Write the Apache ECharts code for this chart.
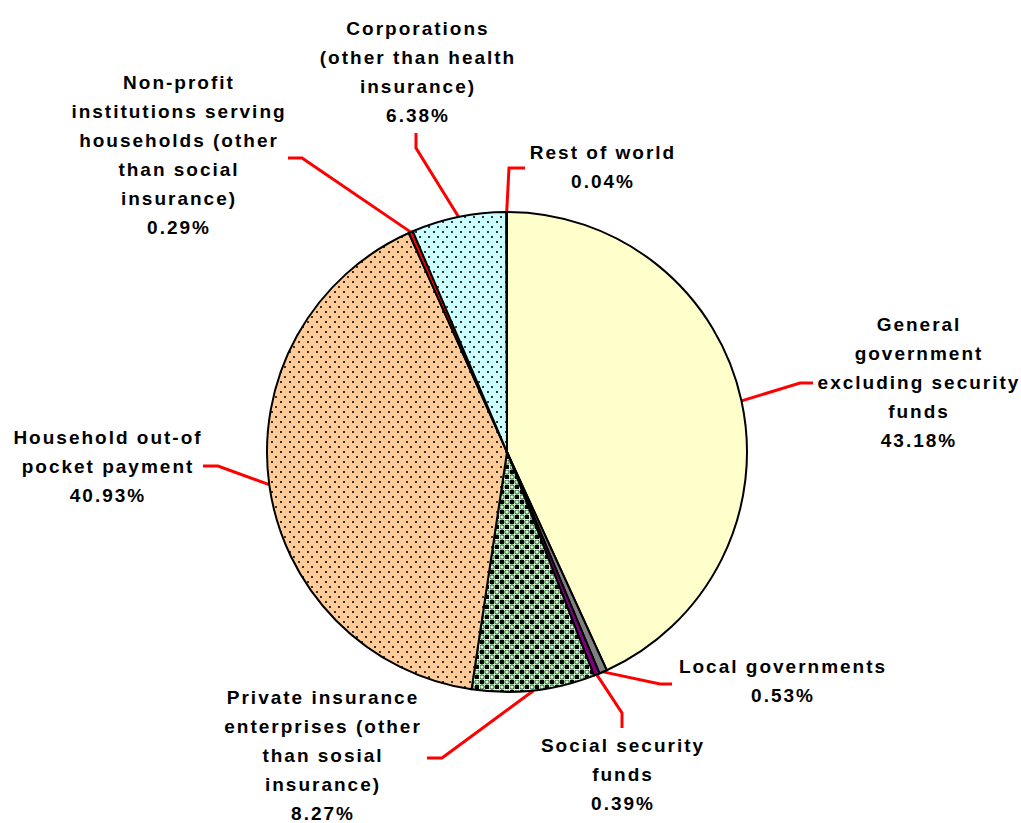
<!DOCTYPE html>
<html>
<head>
<meta charset="utf-8">
<script src="https://cdn.jsdelivr.net/npm/echarts@6/dist/echarts.min.js"></script>
<style>
  html, body { margin: 0; padding: 0; background: #ffffff; }
  #chart { width: 1021px; height: 823px; }
  #chart text { letter-spacing: 2px; }
</style>
</head>
<body>
<div id="chart"></div>
<script>
// ---- data ----
const categories = [
  'General\ngovernment\nexcluding security\nfunds',
  'Local governments',
  'Social security\nfunds',
  'Private insurance\nenterprises (other\nthan sosial\ninsurance)',
  'Household out-of\npocket payment',
  'Non-profit\ninstitutions serving\nhouseholds (other\nthan social\ninsurance)',
  'Corporations\n(other than health\ninsurance)',
  'Rest of world'
];
const values = [43.18, 0.53, 0.39, 8.27, 40.93, 0.29, 6.38, 0.04];

// ---- styling / layout (not data) ----
function makePattern(w, h, bg, draw) {
  const c = document.createElement('canvas');
  c.width = w; c.height = h;
  const g = c.getContext('2d');
  g.fillStyle = bg; g.fillRect(0, 0, w, h);
  if (draw) draw(g);
  return { image: c, repeat: 'repeat', imageWidth: w, imageHeight: h };
}
const dotsOrange = makePattern(9, 10, '#FFCC99', g => {
  g.fillStyle = '#3a2e22';
  g.fillRect(1, 1, 2, 2);
  g.fillRect(5, 6, 2, 2);
});
const dotsCyan = makePattern(9, 10, '#CCFFFF', g => {
  g.fillStyle = '#2e3a3a';
  g.fillRect(1, 1, 2, 2);
  g.fillRect(5, 6, 2, 2);
});
const checkGreen = makePattern(10, 10, '#CCFFCC', g => {
  g.fillStyle = '#000000';
  g.fillRect(0, 0, 4, 4);
  g.fillRect(5, 5, 4, 4);
  g.strokeStyle = '#2f4a2f';
  g.lineWidth = 1;
  g.beginPath(); g.arc(7, 2, 2.2, 0, Math.PI * 2); g.stroke();
  g.beginPath(); g.arc(2, 7, 2.2, 0, Math.PI * 2); g.stroke();
});
const sliceColors = ['#FFFFCC', '#808080', '#800080', checkGreen, dotsOrange, '#FF0000', dotsCyan, '#FFFFFF'];

// label block centre and elbow/end points of leader lines
const labelLayoutTable = [
  { pos: [919, 382], elbow: [800, 383], end: [813, 383] },
  { pos: [783, 681], elbow: [660, 684], end: [672, 684] },
  { pos: [623, 774], elbow: [622, 713], end: [622, 728] },
  { pos: [323, 755], elbow: [442, 758], end: [427, 758] },
  { pos: [108, 466], elbow: [218, 466], end: [203, 466] },
  { pos: [179, 155], elbow: [302, 158], end: [288, 158] },
  { pos: [418, 72],  elbow: [416, 148], end: [416, 133] },
  { pos: [603, 167], elbow: [509, 168], end: [525, 168] }
];

const chart = echarts.init(document.getElementById('chart'), null, { renderer: 'svg' });
chart.setOption({
  animation: false,
  backgroundColor: '#ffffff',
  series: [{
    type: 'pie',
    center: [507, 452],
    radius: 240,
    startAngle: 90,
    clockwise: true,
    avoidLabelOverlap: false,
    silent: true,
    data: categories.map((name, i) => ({
      name: name,
      value: values[i],
      itemStyle: { color: sliceColors[i] }
    })),
    itemStyle: { borderColor: '#000000', borderWidth: 2 },
    label: {
      show: true,
      position: 'outside',
      formatter: p => p.name + '\n' + p.value.toFixed(2) + '%',
      fontFamily: 'Liberation Sans',
      fontWeight: 'bold',
      fontSize: 19,
      lineHeight: 29,
      color: '#000000',
      align: 'center'
    },
    labelLine: {
      show: true,
      length: 20,
      length2: 15,
      lineStyle: { color: '#FF0000', width: 3 }
    },
    labelLayout: function (params) {
      const L = labelLayoutTable[params.dataIndex];
      const p0 = params.labelLinePoints && params.labelLinePoints[0];
      const out = { x: L.pos[0], y: L.pos[1], align: 'center', verticalAlign: 'middle' };
      if (p0) out.labelLinePoints = [p0, L.elbow, L.end];
      return out;
    }
  }]
});
</script>
</body>
</html>
